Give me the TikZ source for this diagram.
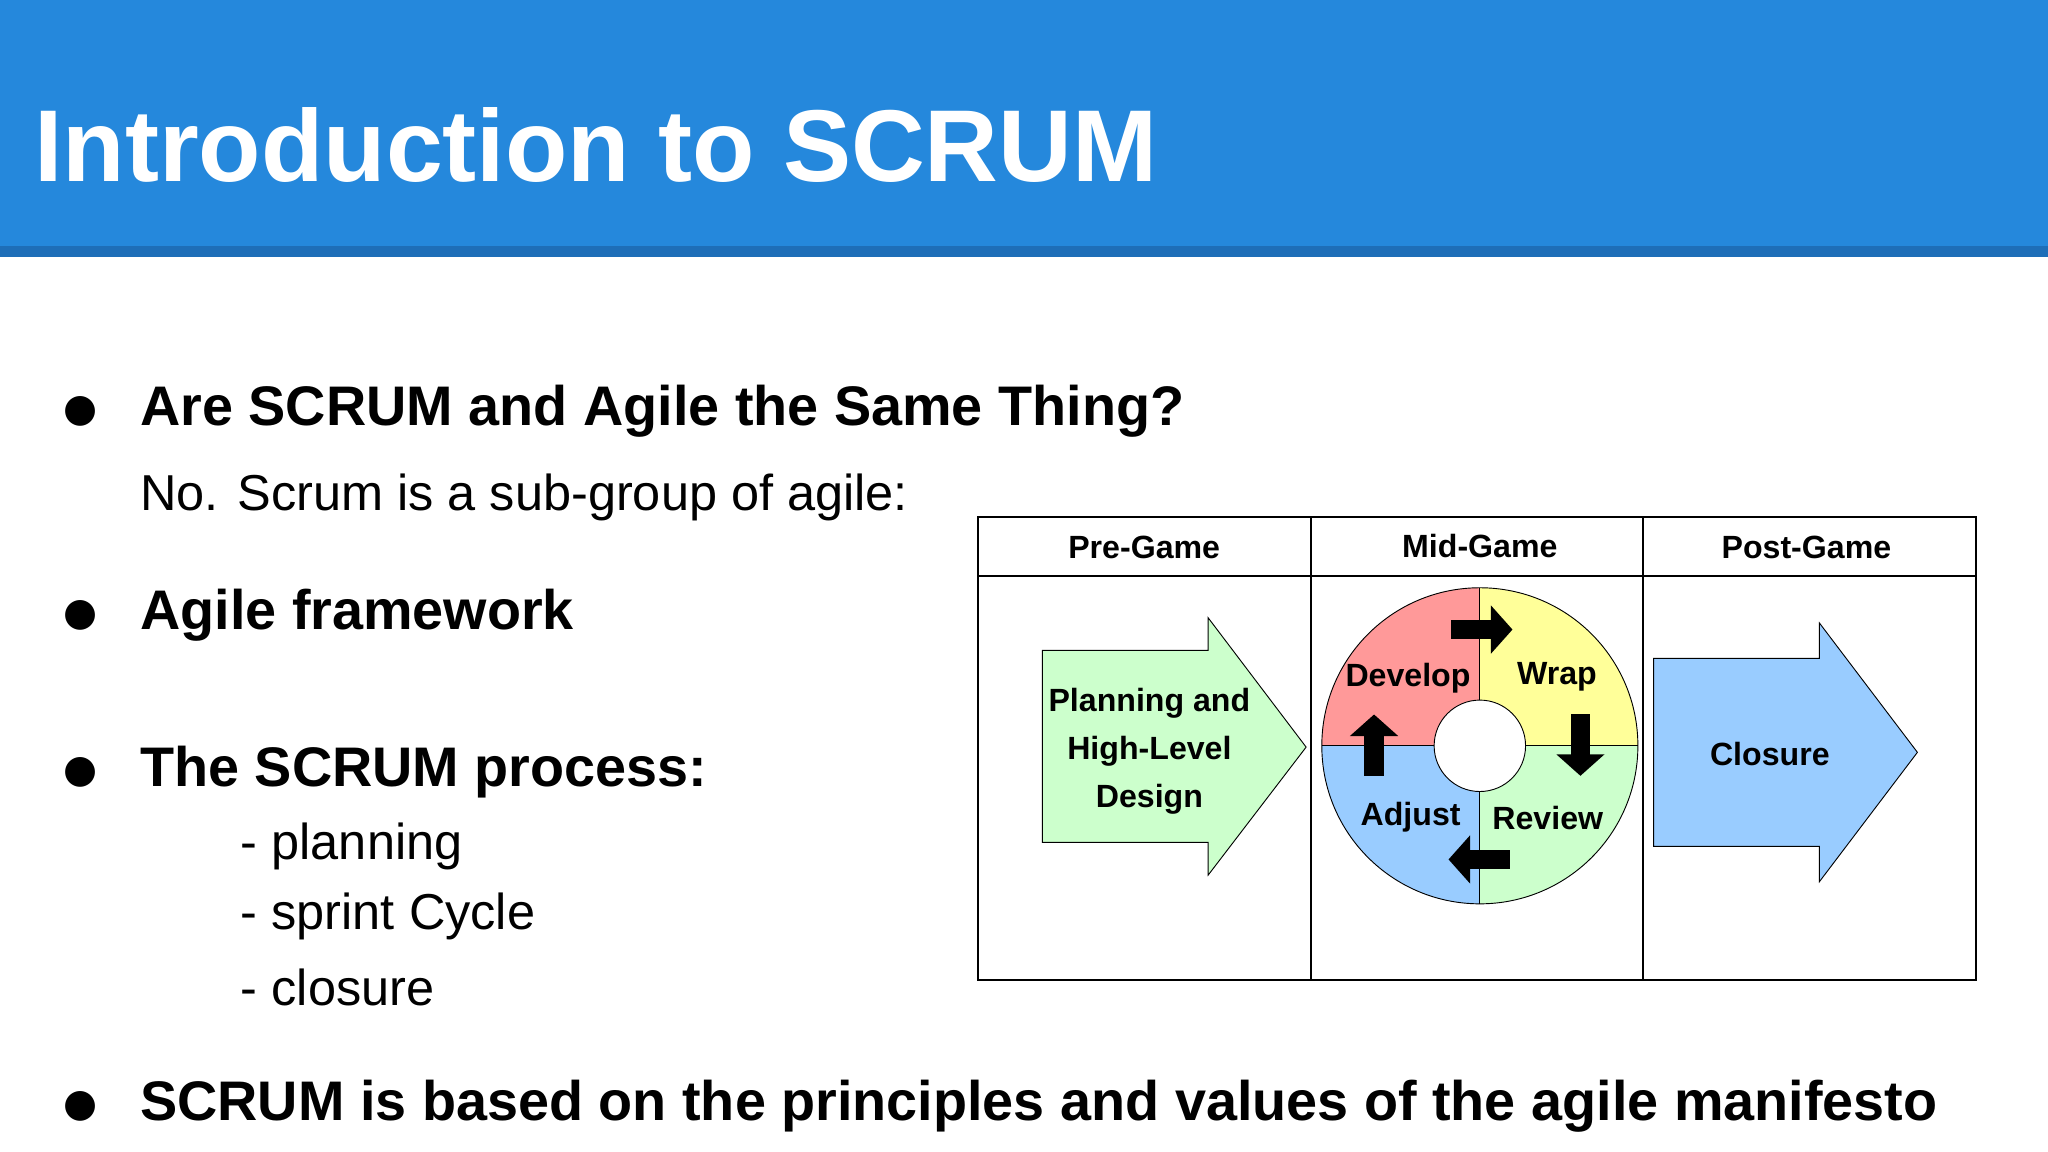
\documentclass[tikz,border=0pt]{standalone}
\usepackage{fontspec}
\setmainfont{Liberation Sans}
\newfontfamily\dejavu{DejaVu Sans}
\usetikzlibrary{arrows.meta}
\definecolor{hdr}{HTML}{2588DC}
\definecolor{hdrdark}{HTML}{1E6EB8}
\definecolor{pgreen}{HTML}{CCFFCC}
\definecolor{pblue}{HTML}{99CCFF}
\definecolor{pred}{HTML}{FF9999}
\definecolor{pyellow}{HTML}{FFFF99}
\tikzset{
 bul/.style={anchor=west,font=\fontsize{24.3}{28}\selectfont\bfseries,inner sep=0},
 dotb/.style={anchor=west,font=\dejavu\fontsize{17}{20}\selectfont,inner sep=0},
 txt/.style={anchor=west,font=\fontsize{22}{26}\selectfont,inner sep=0},
 dlab/.style={font=\fontsize{14}{18}\selectfont\bfseries,inner sep=0,align=center},
 blk/.style={line width=0.3cm,-{Triangle[length=0.33cm,width=0.72cm]}}
}
\begin{document}
\begin{tikzpicture}[x=0.02cm,y=-0.02cm]
\useasboundingbox (0,0) rectangle (1568,882);
\fill[white] (0,0) rectangle (1568,882);
\fill[hdr] (0,0) rectangle (1568,190);
\fill[hdrdark] (0,188) rectangle (1568,197);
\node[anchor=west,text=white,font=\fontsize{44.5}{50}\selectfont\bfseries,inner sep=0] (title) at (26,111) {Introduction to SCRUM};
\foreach \y/\n in {315/b1,471/b2,591/b3,847/b4} \node[dotb] (\n d) at (48,\y) {●};
\node[bul] (b1) at (107,315) {Are SCRUM and Agile the Same Thing?};
\node[txt] (t1) at (107,381) {No. Scrum is a sub-group of agile:};
\node[bul] (b2) at (107,471) {Agile framework};
\node[bul] (b3) at (107,591) {The SCRUM process:};
\node[txt] (s1) at (184,648) {- planning};
\node[txt] (s2) at (184,702) {- sprint Cycle};
\node[txt] (s3) at (184,756) {- closure};
\node[bul] (b4) at (107,847) {SCRUM is based on the principles and values of the agile manifesto};
% table
\draw[thick] (749,396) rectangle (1513,750);
\draw[thick] (749,441) -- (1513,441);
\draw[thick] (1004,396) -- (1004,750);
\draw[thick] (1258,396) -- (1258,750);
\node[dlab] (h1) at (876,419) {Pre-Game};
\node[dlab] (h2) at (1133,418) {Mid-Game};
\node[dlab] (h3) at (1383,419) {Post-Game};
% arrows
\draw[fill=pgreen] (798,498) -- (925,498) -- (925,473) -- (1000,572) -- (925,670) -- (925,645) -- (798,645) -- cycle;
\node[dlab] (plan) at (880,575) {Planning and\\[3pt]High-Level\\[3pt]Design};
\draw[fill=pblue] (1266,504) -- (1393,504) -- (1393,477) -- (1468,576) -- (1393,675) -- (1393,648) -- (1266,648) -- cycle;
\node[dlab] (clos) at (1355,577) {Closure};
% cycle
\coordinate (c) at (1133,571);
\fill[pred] (c) -- ++(-121,0) arc[start angle=180,end angle=90,radius=121*0.02cm] -- cycle;
\fill[pyellow] (c) -- ++(0,-121) arc[start angle=90,end angle=0,radius=121*0.02cm] -- cycle;
\fill[pgreen] (c) -- ++(121,0) arc[start angle=0,end angle=-90,radius=121*0.02cm] -- cycle;
\fill[pblue] (c) -- ++(0,121) arc[start angle=-90,end angle=-180,radius=121*0.02cm] -- cycle;
\draw (c) circle[radius=121*0.02cm];
\draw[fill=white] (c) circle[radius=35*0.02cm];
\draw (1133,450) -- (1133,536) (1133,606) -- (1133,692) (1012,571) -- (1098,571) (1168,571) -- (1254,571);
\coordinate (a1s) at (1111,482); \coordinate (a1e) at (1158,482);
\coordinate (a2s) at (1210,547); \coordinate (a2e) at (1210,594);
\coordinate (a3s) at (1156,658); \coordinate (a3e) at (1109,658);
\coordinate (a4s) at (1052,594); \coordinate (a4e) at (1052,547);
\draw[blk] (a1s) -- (a1e);
\draw[blk] (a2s) -- (a2e);
\draw[blk] (a3s) -- (a3e);
\draw[blk] (a4s) -- (a4e);
\node[dlab] (dev) at (1078,519) {Develop};
\node[dlab] (wrap) at (1192,518) {Wrap};
\node[dlab] (adj) at (1080,626) {Adjust};
\node[dlab] (rev) at (1185,626) {Review};
\end{tikzpicture}
\end{document}
